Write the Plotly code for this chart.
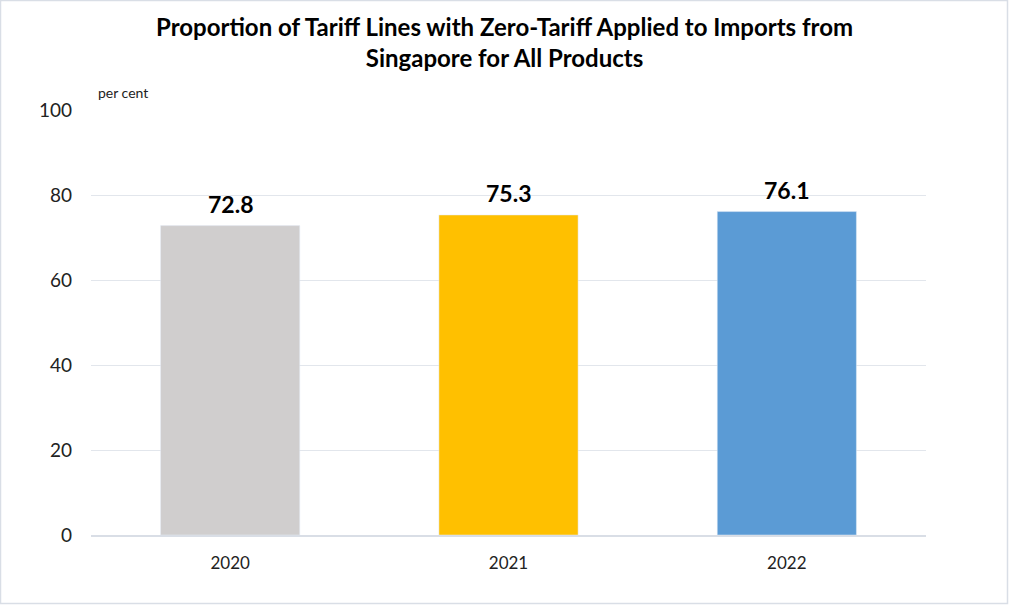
import plotly.graph_objects as go

years = ["2020", "2021", "2022"]
values = [72.8, 75.3, 76.1]
colors = ["#D0CECE", "#FFC000", "#5B9BD5"]
y_ticks = [0, 20, 40, 60, 80, 100]

FONT = "Lato, Open Sans, sans-serif"

W, H = 1009, 605
L, R, T, B = 91, 83, 110, 70
PW, PH = W - L - R, H - T - B


def px(x):
    return (x - L) / PW


def py(y):
    return (H - B - y) / PH


fig = go.Figure(go.Bar(
    x=years, y=values, marker_color=colors,
    hoverinfo="x+y",
))

annotations = [
    dict(text=f"<b>{v:.1f}</b>", x=i, y=v, xref="x", yref="y",
         yanchor="bottom", yshift=6, showarrow=False,
         font=dict(family=FONT, size=23, color="black"))
    for i, v in enumerate(values)
]
annotations.append(dict(text="per cent", xref="paper", yref="paper",
                        x=px(96), y=py(93), xanchor="left", yanchor="middle",
                        showarrow=False, font=dict(family=FONT, size=14, color="#222")))
annotations.append(dict(
    text="<b>Proportion of Tariff Lines with Zero-Tariff Applied to Imports from<br>Singapore for All Products</b>",
    xref="paper", yref="paper", x=px(504.5), y=py(42.5), xanchor="center", yanchor="middle",
    showarrow=False, align="center",
    font=dict(family=FONT, size=24, color="black")))

fig.update_layout(
    width=W, height=H,
    margin=dict(l=L, r=R, t=T, b=B),
    paper_bgcolor="white", plot_bgcolor="white",
    bargap=0.5, showlegend=False,
    font=dict(family=FONT),
    xaxis=dict(type="category", range=[-0.5, 2.5], showgrid=False, showline=True,
               linecolor="#D9DEE6", linewidth=2,
               tickfont=dict(size=17, color="#222"), ticks="", ticklabelstandoff=12),
    yaxis=dict(range=[0, 100], tickvals=y_ticks, showgrid=True, gridcolor="#E2E6EC",
               gridwidth=1, zeroline=False, tickfont=dict(size=19, color="#222"),
               ticks="", ticklabelstandoff=18),
    annotations=annotations,
    shapes=[dict(type="rect", xref="paper", yref="paper",
                 x0=px(0.5), x1=px(1007.5), y0=py(603.5), y1=py(0.5),
                 line=dict(color="#D9DEE6", width=1.5), layer="below")],
)

fig.write_html("out.html")
